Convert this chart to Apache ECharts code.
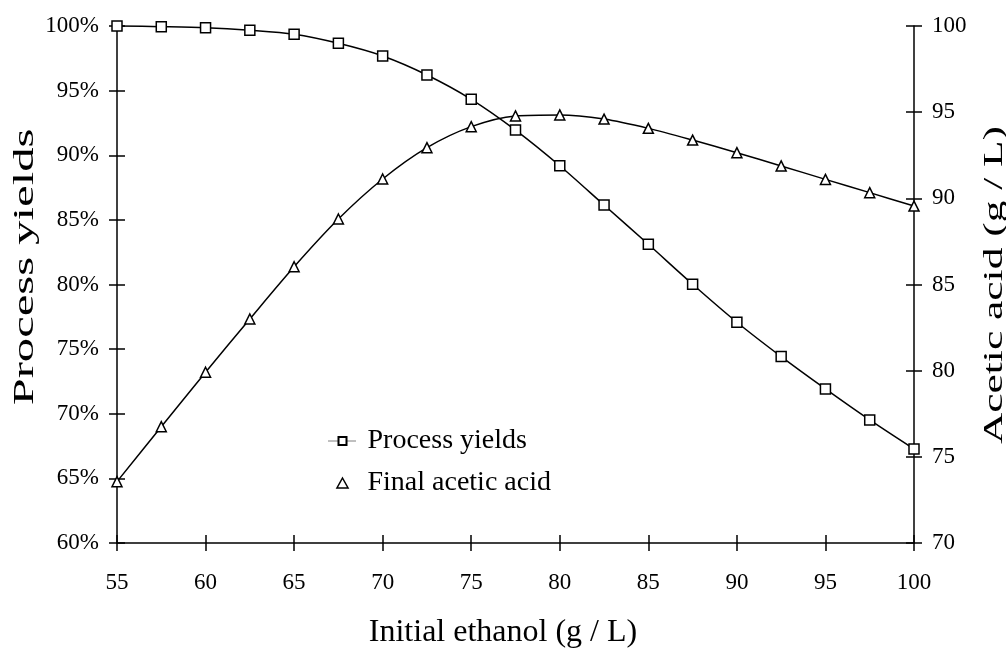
<!DOCTYPE html>
<html><head><meta charset="utf-8">
<script src="https://cdn.jsdelivr.net/npm/echarts@6/dist/echarts.min.js"></script>
<style>html,body{margin:0;padding:0;background:#fff}#c{width:1006px;height:655px}</style>
</head><body><div id="c"></div>
<script>
const ethanol = [55, 57.5, 60, 62.5, 65, 67.5, 70, 72.5, 75, 77.5, 80, 82.5, 85, 87.5, 90, 92.5, 95, 97.5, 100];
const processYields = [100, 99.95, 99.87, 99.67, 99.36, 98.66, 97.68, 96.21, 94.33, 91.95, 89.19, 86.15, 83.11, 80.02, 77.08, 74.42, 71.92, 69.52, 67.27];
const aceticAcid = [73.56, 76.75, 79.91, 83.0, 86.03, 88.8, 91.12, 92.94, 94.16, 94.78, 94.84, 94.6, 94.06, 93.38, 92.65, 91.88, 91.1, 90.33, 89.55];
const xRange = [55, 100, 5];
const yieldRange = [60, 100, 5];
const acidRange = [70, 100, 5];
const seriesNames = ['Process yields', 'Final acetic acid'];
const titles = {x: 'Initial ethanol (g / L)', left: 'Process yields', right: 'Acetic acid (g / L)'};

const FONT = '"Liberation Serif", "Times New Roman", serif';
const axisLine = {show: true, lineStyle: {color: '#000', width: 1.5}};
const tickOut = {show: true, inside: false, length: 8, lineStyle: {color: '#000', width: 1.5}};
const tickIn = {show: true, inside: true, length: 8, lineStyle: {color: '#000', width: 1.5}};
const lbl = {color: '#000', fontFamily: FONT, fontSize: 23};

const chart = echarts.init(document.getElementById('c'), null, {renderer: 'canvas'});
chart.setOption({
  animation: false,
  backgroundColor: '#fff',
  grid: {left: 117, right: 92, top: 26, bottom: 112},
  xAxis: [
    {type: 'value', min: xRange[0], max: xRange[1], interval: xRange[2], position: 'bottom',
     axisLine: axisLine, axisTick: tickOut, splitLine: {show: false},
     axisLabel: Object.assign({margin: 28}, lbl)},
    {type: 'value', min: xRange[0], max: xRange[1], interval: xRange[2], position: 'bottom',
     axisLine: {show: false}, axisTick: tickIn, splitLine: {show: false}, axisLabel: {show: false}}
  ],
  yAxis: [
    {type: 'value', min: yieldRange[0], max: yieldRange[1], interval: yieldRange[2], position: 'left',
     axisLine: axisLine, axisTick: tickOut, splitLine: {show: false},
     axisLabel: Object.assign({margin: 18, formatter: '{value}%'}, lbl)},
    {type: 'value', min: acidRange[0], max: acidRange[1], interval: acidRange[2], position: 'right',
     axisLine: axisLine, axisTick: tickOut, splitLine: {show: false},
     axisLabel: Object.assign({margin: 18}, lbl)},
    {type: 'value', min: yieldRange[0], max: yieldRange[1], interval: yieldRange[2], position: 'left',
     axisLine: {show: false}, axisTick: tickIn, splitLine: {show: false}, axisLabel: {show: false}},
    {type: 'value', min: acidRange[0], max: acidRange[1], interval: acidRange[2], position: 'right',
     axisLine: {show: false}, axisTick: tickIn, splitLine: {show: false}, axisLabel: {show: false}}
  ],
  legend: {
    orient: 'vertical', left: 323, top: 421, itemWidth: 28, itemHeight: 10, itemGap: 12,
    textStyle: {color: '#000', fontFamily: FONT, fontSize: 28, lineHeight: 30, padding: [0, 0, 0, 6]},
    data: [
      {name: seriesNames[0], lineStyle: {type: 'dotted', width: 1}},
      {name: seriesNames[1], icon: 'path://M5,0 L10,9 L0,9 Z', itemStyle: {borderWidth: 1.5}}
    ]
  },
  series: [
    {name: seriesNames[0], type: 'line', xAxisIndex: 0, yAxisIndex: 0, smooth: 0.3,
     data: ethanol.map((x, i) => [x, processYields[i]]),
     symbol: 'rect', symbolSize: 10, clip: false,
     lineStyle: {color: '#000', width: 1.5},
     itemStyle: {color: '#fff', borderColor: '#000', borderWidth: 1.5}},
    {name: seriesNames[1], type: 'line', xAxisIndex: 0, yAxisIndex: 1, smooth: 0.3,
     data: ethanol.map((x, i) => [x, aceticAcid[i]]),
     symbol: 'triangle', symbolSize: 10, clip: false,
     lineStyle: {color: '#000', width: 1.5},
     itemStyle: {color: '#fff', borderColor: '#000', borderWidth: 1.5}}
  ],
  graphic: [
    {type: 'text', x: 503, y: 633,
     style: {text: titles.x, fontFamily: FONT, fontSize: 32, fill: '#000', align: 'center', verticalAlign: 'middle'}},
    {type: 'text', x: 25, y: 267, rotation: Math.PI / 2, scaleX: 1.62,
     style: {text: titles.left, fontFamily: FONT, fontSize: 30, fill: '#000', align: 'center', verticalAlign: 'middle'}},
    {type: 'text', x: 995, y: 285, rotation: Math.PI / 2, scaleX: 1.55,
     style: {text: titles.right, fontFamily: FONT, fontSize: 28, fill: '#000', align: 'center', verticalAlign: 'middle'}}
  ]
});
</script></body></html>
